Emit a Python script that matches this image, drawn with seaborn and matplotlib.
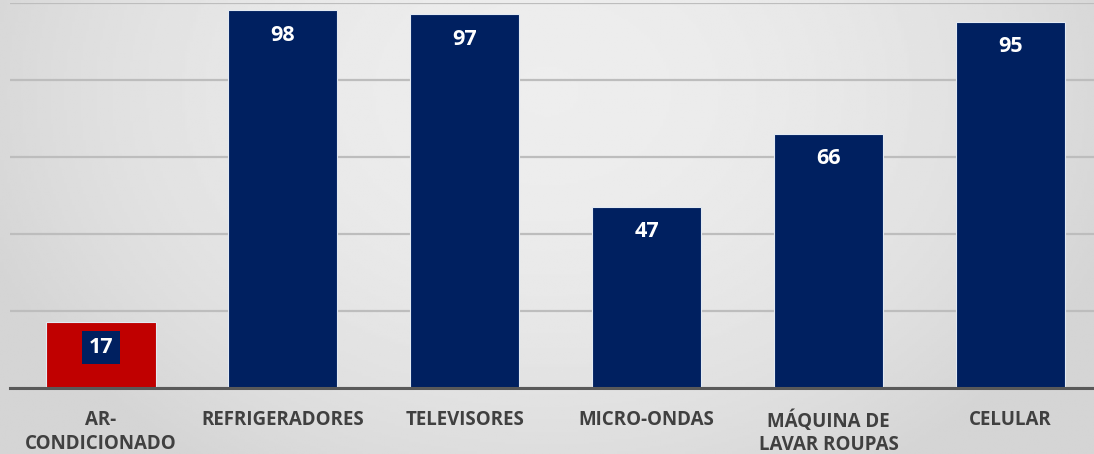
import matplotlib
matplotlib.use('Agg')
import matplotlib.pyplot as plt
import seaborn as sns
import numpy as np
import pandas as pd

# data
categories = ['AR-\nCONDICIONADO', 'REFRIGERADORES', 'TELEVISORES',
              'MICRO-ONDAS', 'MÁQUINA DE\nLAVAR ROUPAS', 'CELULAR']
values = [17, 98, 97, 47, 66, 95]
y_ticks = [0, 20, 40, 60, 80, 100]

NAVY = '#002060'
RED = '#C00000'
bar_colors = [RED] + [NAVY] * 5

sns.set_theme(style='white')
plt.rcParams['font.family'] = ['Open Sans', 'DejaVu Sans']

fig = plt.figure(figsize=(10.94, 4.54), dpi=100)

# gradient background (light centre, darker edges)
bg = fig.add_axes([0, 0, 1, 1], zorder=0)
xx, yy = np.meshgrid(np.linspace(-1, 1, 400), np.linspace(-1, 1, 200))
r2 = xx ** 2 + 0.3 * (yy + 0.6) ** 2
grad = 0.93 - 0.08 * np.clip(r2, 0, 1.2)
bg.imshow(grad, cmap='gray', vmin=0, vmax=1, aspect='auto',
          extent=[0, 1, 0, 1], origin='upper')
bg.set_axis_off()

ax = fig.add_axes([10 / 1094, 66 / 454, 1084 / 1094, 385.5 / 454], zorder=1)
ax.patch.set_alpha(0)

df = pd.DataFrame({'cat': categories, 'val': values})
sns.barplot(data=df, x='cat', y='val', hue='cat', palette=bar_colors,
            width=0.6, legend=False, ax=ax, saturation=1,
            edgecolor='#e3eaf3', linewidth=0.8, zorder=3)

ax.set_ylim(0, 100)
ax.set_xlim(-0.5, 5.46)
ax.set_yticks(y_ticks)
ax.yaxis.grid(True, color='#bdbdbd', linewidth=1.6, zorder=0)
ax.set_axisbelow(True)
ax.tick_params(axis='y', left=False, labelleft=False)
ax.tick_params(axis='x', bottom=False, pad=10, labelsize=13.5, labelcolor='#404040')
for lbl in ax.get_xticklabels():
    lbl.set_fontweight('bold')
    lbl.set_linespacing(1.25)
    lbl.set_verticalalignment('top')
ax.set_xlabel('')
ax.set_ylabel('')
for s in ['top', 'right', 'left']:
    ax.spines[s].set_visible(False)
ax.spines['bottom'].set_color('#595959')
ax.spines['bottom'].set_linewidth(2.2)
ax.spines['bottom'].set_zorder(4)

# value labels
for i, v in enumerate(values):
    kw = dict(ha='center', va='center', color='white', fontsize=15.5,
              fontweight='bold', textcoords='offset pixels', zorder=5)
    if i == 0:
        kw['bbox'] = dict(boxstyle='square,pad=0.3', fc=NAVY, ec='none')
    ax.annotate(str(v), xy=(i, v), xytext=(0, -25), **kw)

fig.savefig('out.png', dpi=100)
